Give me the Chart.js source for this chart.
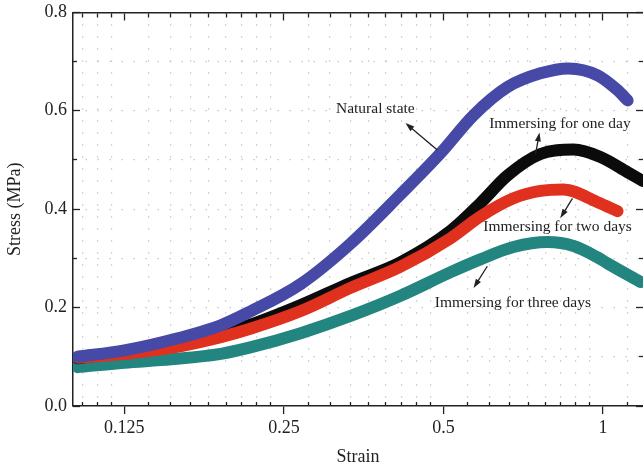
<!DOCTYPE html>
<html>
<head>
<meta charset="utf-8">
<script src="https://cdn.jsdelivr.net/npm/chart.js@4.4.1/dist/chart.umd.min.js"></script>
<style>
  html, body { margin: 0; padding: 0; background: #fff; }
  #wrap { width: 643px; height: 468px; }
</style>
</head>
<body>
<div id="wrap"><canvas id="chart"></canvas></div>
<script>
// ---- data (strain, stress in MPa) ----
var naturalStrain = [0.102, 0.125, 0.153, 0.190, 0.216, 0.269, 0.334, 0.415, 0.494, 0.570, 0.660, 0.762, 0.861, 0.977, 1.065, 1.113];
var naturalStress = [0.100, 0.113, 0.134, 0.164, 0.192, 0.248, 0.330, 0.430, 0.514, 0.591, 0.648, 0.676, 0.686, 0.672, 0.642, 0.621];

var oneDayStrain = [0.102, 0.125, 0.153, 0.190, 0.216, 0.269, 0.334, 0.415, 0.516, 0.587, 0.660, 0.762, 0.880, 0.989, 1.113, 1.19];
var oneDayStress = [0.097, 0.110, 0.124, 0.148, 0.165, 0.205, 0.250, 0.292, 0.356, 0.412, 0.468, 0.512, 0.521, 0.506, 0.475, 0.457];

var twoDaysStrain = [0.102, 0.125, 0.153, 0.190, 0.216, 0.269, 0.334, 0.415, 0.516, 0.587, 0.678, 0.762, 0.842, 0.977, 1.065];
var twoDaysStress = [0.098, 0.106, 0.118, 0.140, 0.157, 0.193, 0.240, 0.283, 0.341, 0.385, 0.422, 0.437, 0.440, 0.414, 0.396];

var threeDaysStrain = [0.102, 0.125, 0.153, 0.190, 0.216, 0.269, 0.334, 0.415, 0.516, 0.587, 0.678, 0.786, 0.880, 0.977, 1.019, 1.177];
var threeDaysStress = [0.079, 0.088, 0.095, 0.106, 0.119, 0.148, 0.183, 0.224, 0.272, 0.298, 0.323, 0.333, 0.325, 0.302, 0.290, 0.252];

var majorTicks = [0.125, 0.25, 0.5, 1];
var yTicks = [0, 0.1, 0.2, 0.3, 0.4, 0.5, 0.6, 0.7, 0.8];
var yLabels = ['0.0', '', '0.2', '', '0.4', '', '0.6', '', '0.8'];

// ---- annotations ----
var noteText = ['Natural state', 'Immersing for one day', 'Immersing for two days', 'Immersing for three days'];
var noteX = [0.372, 0.8295, 0.821, 0.676];
var noteY = [0.603, 0.5726, 0.363, 0.209];
var arrowFromX = [0.487, 0.746, 0.876, 0.605];
var arrowFromY = [0.520, 0.512, 0.422, 0.284];
var arrowToX = [0.424, 0.759, 0.831, 0.570];
var arrowToY = [0.575, 0.556, 0.382, 0.240];

var SERIF = '"Liberation Serif", "DejaVu Serif", serif';
var INK = '#222';
var DOTS = '#c6c6c6';
var NONE = 'rgba(0,0,0,0)';

// minor ticks: each octave split in 9 equal steps
var minorTicks = [];
[0.0625, 0.125, 0.25, 0.5, 1].forEach(function(b) {
  for (var k = 1; k <= 8; k++) {
    var v = b * (1 + k / 9);
    if (v > 0.1 && v < 1.19) minorTicks.push(v);
  }
});
var allXTicks = majorTicks.concat(minorTicks).sort(function(a, b) { return a - b; });

function isMajor(v) { return majorTicks.indexOf(v) >= 0; }
function isMajorY(v) { return Math.abs(v * 5 - Math.round(v * 5)) < 1e-6; }

function pts(xs, ys) {
  return xs.map(function(x, i) { return { x: x, y: ys[i] }; });
}

function series(label, xs, ys, color) {
  return {
    label: label, data: pts(xs, ys),
    borderColor: color, backgroundColor: color,
    borderWidth: 12, pointRadius: 0, fill: false,
    tension: 0.4, cubicInterpolationMode: 'monotone',
    borderCapStyle: 'round', borderJoinStyle: 'round'
  };
}

var notesPlugin = {
  id: 'notes',
  afterDatasetsDraw: function(chart) {
    var ctx = chart.ctx, sx = chart.scales.x, sy = chart.scales.y;
    ctx.save();
    ctx.font = '15.5px ' + SERIF;
    ctx.fillStyle = INK;
    ctx.strokeStyle = INK;
    ctx.lineWidth = 1.3;
    ctx.textAlign = 'center';
    ctx.textBaseline = 'middle';
    noteText.forEach(function(t, i) {
      ctx.fillText(t, sx.getPixelForValue(noteX[i]), sy.getPixelForValue(noteY[i]));
      var x0 = sx.getPixelForValue(arrowFromX[i]), y0 = sy.getPixelForValue(arrowFromY[i]);
      var x1 = sx.getPixelForValue(arrowToX[i]), y1 = sy.getPixelForValue(arrowToY[i]);
      var a = Math.atan2(y1 - y0, x1 - x0), c = Math.cos(a), s = Math.sin(a);
      ctx.beginPath();
      ctx.moveTo(x0, y0);
      ctx.lineTo(x1 - 6 * c, y1 - 6 * s);
      ctx.stroke();
      ctx.beginPath();
      ctx.moveTo(x1, y1);
      ctx.lineTo(x1 - 9 * c + 3 * s, y1 - 9 * s - 3 * c);
      ctx.lineTo(x1 - 9 * c - 3 * s, y1 - 9 * s + 3 * c);
      ctx.closePath();
      ctx.fill();
    });
    ctx.restore();
  }
};

// tick-only axes drawn on the frame (inward ticks)
function frameAxis(axis, pos, values, len, kind) {
  var logX = axis === 'x';
  return {
    axis: axis,
    type: logX ? 'logarithmic' : 'linear',
    min: logX ? 0.1 : 0, max: logX ? 1.19 : 0.8,
    position: pos,
    afterBuildTicks: function(s) { s.ticks = values.map(function(v) { return { value: v }; }); },
    ticks: { display: false },
    grid: {
      drawOnChartArea: false, tickLength: len, tickWidth: 1.3, tickColor: INK,
      tickBorderDash: function(c) {
        var v = c.tick ? c.tick.value : 0;
        var major = kind === 'x' ? isMajor(v) : isMajorY(v);
        return major ? [] : [4, 100];
      }
    },
    border: { display: axis === 'x' && pos.y === 0.8, color: INK, width: 1.5 }
  };
}

var ctx = document.getElementById('chart').getContext('2d');
var chart = new Chart(ctx, {
  type: 'line',
  data: { datasets: [
    series('Natural state', naturalStrain, naturalStress, '#4649a6'),
    series('Immersing for two days', twoDaysStrain, twoDaysStress, '#e0301e'),
    series('Immersing for one day', oneDayStrain, oneDayStress, '#0b0b0b'),
    series('Immersing for three days', threeDaysStrain, threeDaysStress, '#23857f')
  ] },
  options: {
    responsive: true, maintainAspectRatio: false, animation: false, devicePixelRatio: 1,
    layout: { padding: { top: 12, right: 0, left: 0, bottom: 0 } },
    plugins: { legend: { display: false }, tooltip: { enabled: false } },
    scales: {
      x: {
        type: 'logarithmic', position: 'bottom', min: 0.1, max: 1.19,
        afterBuildTicks: function(s) { s.ticks = allXTicks.map(function(v) { return { value: v }; }); },
        afterFit: function(s) { s.height = 62; },
        ticks: {
          autoSkip: false, maxRotation: 0, minRotation: 0, padding: 3, color: INK,
          font: { family: SERIF, size: 18 },
          callback: function(v) { return isMajor(v) ? String(v) : ''; }
        },
        grid: {
          color: function(c) { return c.tick && isMajor(c.tick.value) ? NONE : DOTS; },
          lineWidth: 1.2, tickLength: 8, tickWidth: 1.3,
          tickColor: function(c) { return c.tick && isMajor(c.tick.value) ? INK : NONE; }
        },
        border: { color: INK, width: 1.5, dash: [1.5, 10.5] },
        title: { display: true, text: 'Strain', color: INK, font: { family: SERIF, size: 18 }, padding: { top: 0, bottom: 0 } }
      },
      y: {
        type: 'linear', position: 'left', min: 0, max: 0.8,
        afterBuildTicks: function(s) { s.ticks = yTicks.map(function(v) { return { value: v }; }); },
        afterFit: function(s) { s.width = 73; },
        ticks: {
          padding: 6, color: INK, font: { family: SERIF, size: 18, lineHeight: 0.7 },
          callback: function(v, i) { return yLabels[i]; }
        },
        grid: {
          drawTicks: false, lineWidth: 1.2,
          color: function(c) { var v = c.tick ? c.tick.value : 0; return (v === 0 || v === 0.8) ? NONE : DOTS; }
        },
        border: { color: INK, width: 1.5, dash: [1.5, 10.5] },
        title: { display: true, text: 'Stress (MPa)', color: INK, font: { family: SERIF, size: 18 }, padding: { top: 4, bottom: 0 } }
      },
      xIn: frameAxis('x', { y: 0 }, minorTicks, -4, 'x'),
      xTop: frameAxis('x', { y: 0.8 }, allXTicks, 7, 'x'),
      yIn: frameAxis('y', { x: 0.1 }, yTicks, -7, 'y'),
      yRight: frameAxis('y', { x: 1.19 }, yTicks, 7, 'y')
    }
  },
  plugins: [notesPlugin]
});
</script>
</body>
</html>
